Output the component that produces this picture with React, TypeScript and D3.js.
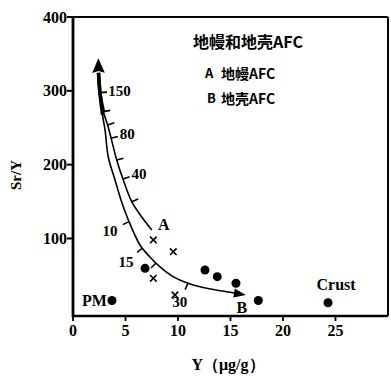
import React from "react";
import * as d3 from "d3";

const W = 391;
const H = 376;

// Axis ticks
const xTicks = [0, 5, 10, 15, 20, 25];
const yTicks = [100, 200, 300, 400];

// Samples (filled dots)
const sampleY = [6.86, 12.57, 13.74, 15.52, 17.65];
const sampleSrY = [59.6, 57.3, 48.3, 39.3, 16];

// Samples (crosses)
const crossY = [7.65, 9.55, 7.65, 9.71];
const crossSrY = [98, 82.1, 46.1, 23.5];

// Reference reservoirs
const refNames = ["PM", "Crust"];
const refY = [3.71, 24.29];
const refSrY = [16, 13];

// Shared arrow tip at the top of both AFC paths
const arrowTip = [2.41, 344.2];

// Curve A: mantle AFC
const curveAY = [2.43, 2.57, 2.9, 3.3, 3.67, 4.16, 4.79, 5.59, 6.48, 7.5];
const curveASrY = [324.3, 297.2, 271.4, 253.8, 233.5, 206.4, 179.3, 149.9, 130.5, 111.5];
const curveATickSrY = [297.6, 271.8, 253.8, 235.8, 206.4, 180.6, 149.9];
const curveATickLabels = ["150", "", "", "80", "", "40", ""];

// Curve B: crustal AFC
const curveBY = [2.43, 2.57, 2.81, 3.05, 3.36, 4.0, 4.57, 5.27, 6.38, 7.33, 8.29, 9.52, 10.95, 12.73, 14.64, 15.9];
const curveBSrY = [324.3, 297.2, 267.4, 247, 210.4, 179.3, 152.2, 125.1, 91.2, 74.9, 61.4, 48.3, 39.3, 32.5, 27.9, 24.8];
const curveBTickSrY = [122.8, 87.1, 66.8, 39.3];
const curveBTickLabels = ["10", "15", "", "30"];

const legendTitle = "地幔和地壳AFC";
const legendKeys = ["A", "B"];
const legendNames = ["地幔AFC", "地壳AFC"];

const serif = "'Liberation Serif', 'Times New Roman', serif";
const cjk = "'Noto Sans CJK SC', 'Noto Sans', sans-serif";

const x = d3.scaleLinear().domain([0, 30]).range([73, 388]);
const y = d3.scaleLinear().domain([-5, 400]).range([316, 17]);

type Pt = [number, number];

function toPixels(xs: number[], ys: number[]): Pt[] {
  return xs.map((v, i) => [x(v), y(ys[i])] as Pt);
}

// Position and unit tangent on a polyline where it reaches a given Sr/Y value
function locate(pts: Pt[], ys: number[], v: number) {
  for (let i = 0; i < ys.length - 1; i++) {
    const a = ys[i];
    const b = ys[i + 1];
    if ((a >= v && v >= b) || (a <= v && v <= b)) {
      const t = a === b ? 0 : (a - v) / (a - b);
      const p0 = pts[i];
      const p1 = pts[i + 1];
      const px = p0[0] + (p1[0] - p0[0]) * t;
      const py = p0[1] + (p1[1] - p0[1]) * t;
      const dx = p1[0] - p0[0];
      const dy = p1[1] - p0[1];
      const len = Math.hypot(dx, dy) || 1;
      return { px, py, tx: dx / len, ty: dy / len };
    }
  }
  const p = pts[pts.length - 1];
  return { px: p[0], py: p[1], tx: 1, ty: 0 };
}

const line = d3
  .line<Pt>()
  .x((d) => d[0])
  .y((d) => d[1])
  .curve(d3.curveCatmullRom.alpha(0.5));

function CurveTicks({
  pts,
  ys,
  ticks,
  labels,
  side,
  gap,
}: {
  pts: Pt[];
  ys: number[];
  ticks: number[];
  labels: string[];
  side: number;
  gap: number;
}) {
  return (
    <g>
      {ticks.map((v, i) => {
        const { px, py, tx, ty } = locate(pts, ys, v);
        // normal: side = 1 -> left of travel direction, -1 -> right
        const nx = -ty * side;
        const ny = tx * side;
        const len = 7;
        const label = labels[i];
        const w = label.length * 7.5;
        const h = 11;
        const off = len + gap + Math.abs(nx) * (w / 2) + Math.abs(ny) * (h / 2);
        return (
          <g key={i}>
            <line
              x1={px}
              y1={py}
              x2={px + nx * len}
              y2={py + ny * len}
              stroke="#000"
              strokeWidth={1.6}
            />
            {label && (
              <text
                x={px + nx * off}
                y={py + ny * off}
                textAnchor="middle"
                dominantBaseline="central"
                fontFamily={serif}
                fontWeight="bold"
                fontSize={15}
              >
                {label}
              </text>
            )}
          </g>
        );
      })}
    </g>
  );
}

export default function App() {
  const ptsA = toPixels(curveAY, curveASrY);
  const ptsB = toPixels(curveBY, curveBSrY);

  // top arrowhead
  const tip: Pt = [x(arrowTip[0]), y(arrowTip[1])];
  const base = ptsA[0];
  const dLen = Math.hypot(tip[0] - base[0], tip[1] - base[1]);
  const ux = (tip[0] - base[0]) / dLen;
  const uy = (tip[1] - base[1]) / dLen;
  const hw = 6.3;
  const topArrow = `M${tip[0]},${tip[1]} L${base[0] - uy * hw},${base[1] + ux * hw} L${base[0] + ux * 2},${base[1] + uy * 2} L${base[0] + uy * hw},${base[1] - ux * hw} Z`;

  // end arrowhead on curve B
  const eB = ptsB[ptsB.length - 1];
  const pB = ptsB[ptsB.length - 2];
  const eLen = Math.hypot(eB[0] - pB[0], eB[1] - pB[1]);
  const ex = (eB[0] - pB[0]) / eLen;
  const ey = (eB[1] - pB[1]) / eLen;
  const bTip: Pt = [eB[0] + ex * 6, eB[1] + ey * 6];
  const bBase: Pt = [eB[0] - ex * 6, eB[1] - ey * 6];
  const bhw = 4.5;
  const endArrow = `M${bTip[0]},${bTip[1]} L${bBase[0] - ey * bhw},${bBase[1] + ex * bhw} L${bBase[0] + ey * bhw},${bBase[1] - ex * bhw} Z`;

  const endA = ptsA[ptsA.length - 1];

  const x0 = x.range()[0];
  const x1 = x.range()[1];
  const yTop = y.range()[1];
  const yBot = y.range()[0];

  return (
    <svg width={W} height={H} style={{ display: "block", position: "absolute", left: 0, top: 0 }}>
      <rect width={W} height={H} fill="#fff" />

      {/* frame */}
      <line x1={x0} y1={yTop} x2={x1} y2={yTop} stroke="#000" strokeWidth={2} />
      <line x1={x1} y1={yTop} x2={x1} y2={yBot} stroke="#000" strokeWidth={2} />
      <line x1={x0} y1={yBot} x2={x1} y2={yBot} stroke="#000" strokeWidth={2.5} />
      <line x1={x0} y1={yTop - 1} x2={x0} y2={yBot + 1} stroke="#000" strokeWidth={2.8} />

      {/* y axis */}
      {yTicks.map((t) => (
        <g key={t}>
          <line x1={x0 - 6} y1={y(t)} x2={x0} y2={y(t)} stroke="#000" strokeWidth={2} />
          <text
            x={x0 - 6}
            y={y(t)}
            textAnchor="end"
            dominantBaseline="central"
            fontFamily={serif}
            fontWeight="bold"
            fontSize={16}
          >
            {t}
          </text>
        </g>
      ))}

      {/* x axis */}
      {xTicks.map((t) => (
        <g key={t}>
          <line x1={x(t)} y1={yBot} x2={x(t)} y2={yBot + 5} stroke="#000" strokeWidth={1.8} />
          <text
            x={x(t)}
            y={yBot + 14}
            textAnchor="middle"
            dominantBaseline="central"
            fontFamily={serif}
            fontWeight="bold"
            fontSize={16}
          >
            {t}
          </text>
        </g>
      ))}

      {/* axis titles */}
      <text
        transform={`translate(16,175) rotate(-90)`}
        textAnchor="middle"
        dominantBaseline="central"
        fontFamily={serif}
        fontWeight="bold"
        fontSize={15}
      >
        Sr/Y
      </text>
      <text
        x={228}
        y={364}
        textAnchor="middle"
        dominantBaseline="central"
        fontFamily={serif}
        fontWeight="bold"
        fontSize={16}
      >
        Y（μg/g）
      </text>

      {/* legend */}
      <text x={193} y={41} dominantBaseline="central" fontFamily={cjk} fontWeight="bold" fontSize={16}>
        {legendTitle}
      </text>
      {legendKeys.map((k, i) => (
        <g key={k}>
          <text
            x={205 + i * 2}
            y={72.5 + i * 25}
            dominantBaseline="central"
            fontFamily={cjk}
            fontWeight="bold"
            fontSize={13}
          >
            {k}
          </text>
          <text
            x={221}
            y={72.5 + i * 25}
            dominantBaseline="central"
            fontFamily={cjk}
            fontWeight="bold"
            fontSize={14}
          >
            {legendNames[i]}
          </text>
        </g>
      ))}

      {/* AFC curves */}
      <path d={line(ptsA) ?? ""} fill="none" stroke="#000" strokeWidth={1.6} />
      <path d={line(ptsB) ?? ""} fill="none" stroke="#000" strokeWidth={1.6} />
      <path d={line(ptsA.slice(0, 3)) ?? ""} fill="none" stroke="#000" strokeWidth={3.5} />
      <path d={line(ptsB.slice(0, 3)) ?? ""} fill="none" stroke="#000" strokeWidth={3.5} />
      <path d={topArrow} fill="#000" />
      <path d={endArrow} fill="#000" />

      <CurveTicks pts={ptsA} ys={curveASrY} ticks={curveATickSrY} labels={curveATickLabels} side={-1} gap={1} />
      <CurveTicks pts={ptsB} ys={curveBSrY} ticks={curveBTickSrY} labels={curveBTickLabels} side={1} gap={5} />

      <text
        x={endA[0] + 12}
        y={endA[1] - 5}
        textAnchor="middle"
        dominantBaseline="central"
        fontFamily={serif}
        fontWeight="bold"
        fontSize={16}
      >
        A
      </text>
      <text
        x={eB[0] + 2}
        y={eB[1] + 14}
        textAnchor="middle"
        dominantBaseline="central"
        fontFamily={serif}
        fontWeight="bold"
        fontSize={16}
      >
        B
      </text>

      {/* samples */}
      {sampleY.map((v, i) => (
        <circle key={i} cx={x(v)} cy={y(sampleSrY[i])} r={4.5} fill="#000" />
      ))}
      {crossY.map((v, i) => {
        const cx = x(v);
        const cy = y(crossSrY[i]);
        const s = 3.3;
        return (
          <path
            key={i}
            d={`M${cx - s},${cy - s}L${cx + s},${cy + s}M${cx - s},${cy + s}L${cx + s},${cy - s}`}
            stroke="#000"
            strokeWidth={1.6}
          />
        );
      })}

      {/* reference reservoirs */}
      {refNames.map((n, i) => {
        const cx = x(refY[i]);
        const cy = y(refSrY[i]);
        return (
          <g key={n}>
            <circle cx={cx} cy={cy} r={4.5} fill="#000" />
            {i === 0 ? (
              <text
                x={cx - 5}
                y={cy}
                textAnchor="end"
                dominantBaseline="central"
                fontFamily={serif}
                fontWeight="bold"
                fontSize={16}
              >
                {n}
              </text>
            ) : (
              <text
                x={cx + 8}
                y={cy - 18}
                textAnchor="middle"
                dominantBaseline="central"
                fontFamily={serif}
                fontWeight="bold"
                fontSize={16}
              >
                {n}
              </text>
            )}
          </g>
        );
      })}
    </svg>
  );
}
